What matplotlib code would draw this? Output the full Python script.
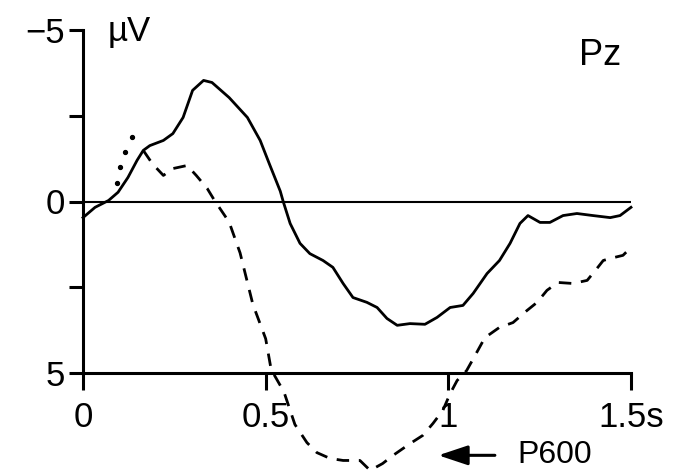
import matplotlib
matplotlib.use("Agg")
import matplotlib.pyplot as plt

# Pz ERP traces (s, µV), negative up
solid_t = [0.0, 0.033, 0.07, 0.096, 0.123, 0.148, 0.165, 0.183, 0.22, 0.246,
           0.274, 0.3, 0.33, 0.353, 0.4, 0.45, 0.485, 0.51, 0.54, 0.548,
           0.567, 0.594, 0.621, 0.657, 0.684, 0.712, 0.739, 0.777, 0.805, 0.832,
           0.86, 0.895, 0.936, 0.969, 1.005, 1.04, 1.068, 1.106, 1.14, 1.169,
           1.196, 1.218, 1.251, 1.278, 1.314, 1.352, 1.396, 1.443, 1.47, 1.5]
solid_v = [0.47, 0.17, -0.03, -0.27, -0.7, -1.2, -1.49, -1.63, -1.78, -1.98,
           -2.45, -3.24, -3.53, -3.47, -3.03, -2.45, -1.78, -1.1, -0.3, 0.0,
           0.64, 1.22, 1.52, 1.72, 1.92, 2.39, 2.8, 2.94, 3.09, 3.41,
           3.61, 3.56, 3.58, 3.38, 3.09, 3.03, 2.68, 2.1, 1.72, 1.22,
           0.64, 0.41, 0.61, 0.61, 0.41, 0.35, 0.41, 0.47, 0.41, 0.17]

dashed_t = [0.165, 0.19, 0.22, 0.246, 0.285, 0.31, 0.34, 0.36, 0.4, 0.43,
            0.465, 0.5, 0.515, 0.55, 0.58, 0.613, 0.64, 0.676, 0.712, 0.758,
            0.786, 0.82, 0.849, 0.895, 0.93, 0.958, 0.985, 1.005, 1.024, 1.05,
            1.07, 1.1, 1.14, 1.177, 1.215, 1.243, 1.27, 1.3, 1.341, 1.38,
            1.407, 1.424, 1.443, 1.478, 1.5]
dashed_v = [-1.49, -1.1, -0.76, -0.96, -1.05, -0.76, -0.38, -0.03, 0.6, 1.5,
            3.0, 4.0, 4.9, 5.55, 6.5, 7.03, 7.32, 7.49, 7.55, 7.55,
            7.84, 7.64, 7.4, 7.06, 6.82, 6.47, 6.09, 5.6, 5.22, 4.93,
            4.55, 3.97, 3.67, 3.53, 3.18, 2.94, 2.59, 2.36, 2.39, 2.3,
            1.95, 1.72, 1.66, 1.57, 1.34]

dotted_t = [0.093, 0.1, 0.115, 0.134]
dotted_v = [-0.55, -1.0, -1.43, -1.87]

xticks = [0, 0.5, 1, 1.5]
xticklabels = ["0", "0.5", "1", "1.5s"]
yticks = [-5, -2.5, 0, 2.5, 5]
yticklabels = ["\u22125", "", "0", "", "5"]

plt.rcParams["font.family"] = ["Liberation Sans", "DejaVu Sans"]

fig = plt.figure(figsize=(6.81, 4.72), dpi=100)
ax = fig.add_axes([83 / 681, 99 / 472, 548 / 681, 343 / 472])

ax.axhline(0, color="black", lw=1.5, xmin=0, xmax=1)
ax.plot(solid_t, solid_v, color="black", lw=2.0, clip_on=False)
ax.plot(dashed_t, dashed_v, color="black", lw=2.0, dashes=(4.5, 3.5), clip_on=False)
ax.plot(dotted_t, dotted_v, color="black", ls="none", marker="o", ms=2.8, clip_on=False)

ax.set_xlim(0, 1.5)
ax.set_ylim(5, -5)

for s in ["top", "right"]:
    ax.spines[s].set_visible(False)
for s in ["left", "bottom"]:
    ax.spines[s].set_linewidth(2.2)

ax.set_xticks(xticks)
ax.set_xticklabels(xticklabels)
ax.set_yticks(yticks)
ax.set_yticklabels(yticklabels)
ax.tick_params(axis="x", length=12, width=2.2, pad=8, labelsize=25)
ax.tick_params(axis="y", length=10, width=2.2, pad=3, labelsize=25)

ax.text(0.068, -4.69, "\u00b5V", fontsize=25, ha="left", va="baseline")
ax.text(1.358, -3.97, "Pz", fontsize=26, ha="left", va="baseline")

ax.annotate("", xy=(0.965, 7.4), xytext=(1.135, 7.4),
            arrowprops=dict(arrowstyle="-|>,head_length=0.6,head_width=0.2",
                            lw=2.2, color="black", mutation_scale=30),
            annotation_clip=False)
ax.text(1.188, 7.4, "P600", fontsize=23, ha="left", va="center")

fig.savefig("out.png", dpi=100)
